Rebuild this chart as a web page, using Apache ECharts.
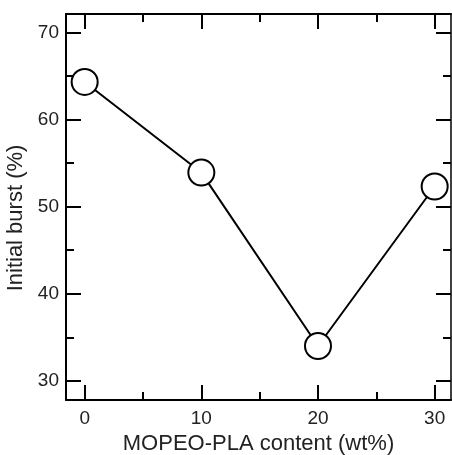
<!DOCTYPE html>
<html>
<head>
<meta charset="utf-8">
<script src="https://cdn.jsdelivr.net/npm/echarts@6/dist/echarts.min.js"></script>
<style>
  html, body { margin: 0; padding: 0; background: #fff; }
  #main { width: 452px; height: 455px; }
</style>
</head>
<body>
<div id="main"></div>
<script>
var contentWt = [0, 10, 20, 30];
var initialBurst = [64.3, 53.9, 34.0, 52.3];
var xMajorTicks = [0, 10, 20, 30];
var xMinorTicks = [5, 15, 25];
var yMajorTicks = [30, 40, 50, 60, 70];
var yMinorTicks = [35, 45, 55, 65];

var chart = echarts.init(document.getElementById('main'));

var font = 'Liberation Sans, Arial, sans-serif';
var xMin = -1.6, xMax = 31.4;
var yMin = 27.8, yMax = 72.1;

function xAxis(pos, ticks, len, main) {
  return {
    type: 'value', position: pos, min: xMin, max: xMax,
    splitLine: { show: false },
    axisLine: { show: main, onZero: false, lineStyle: { color: '#000', width: 2 } },
    axisTick: { show: true, inside: true, length: len, customValues: ticks,
      lineStyle: { color: '#000', width: 2 } },
    axisLabel: { show: main && pos === 'bottom', customValues: ticks,
      color: '#222', fontSize: 19, fontFamily: font, margin: 9 },
    name: main && pos === 'bottom' ? 'MOPEO-PLA content (wt%)' : '',
    nameLocation: 'middle', nameGap: 32,
    nameTextStyle: { color: '#222', fontSize: 22, fontFamily: font }
  };
}

function yAxis(pos, ticks, len, main) {
  return {
    type: 'value', position: pos, min: yMin, max: yMax,
    splitLine: { show: false },
    axisLine: { show: main, onZero: false, lineStyle: { color: '#000', width: pos === 'left' ? 2 : 1.5 } },
    axisTick: { show: true, inside: true, length: len, customValues: ticks,
      lineStyle: { color: '#000', width: 2 } },
    axisLabel: { show: main && pos === 'left', customValues: ticks,
      color: '#222', fontSize: 19, fontFamily: font, margin: 7 },
    name: main && pos === 'left' ? 'Initial burst (%)' : '',
    nameLocation: 'middle', nameGap: 25,
    nameTextStyle: { color: '#222', fontSize: 22, fontFamily: font, padding: [0, 22, 0, 0] }
  };
}

var option = {
  animation: false,
  grid: { left: 66, top: 14, right: 1, bottom: 55, outerBoundsMode: 'none', containLabel: false },
  xAxis: [
    xAxis('bottom', xMajorTicks, 15, true),
    xAxis('bottom', xMinorTicks, 8, false),
    xAxis('top', xMajorTicks, 15, true),
    xAxis('top', xMinorTicks, 8, false)
  ],
  yAxis: [
    yAxis('left', yMajorTicks, 15, true),
    yAxis('left', yMinorTicks, 8, false),
    yAxis('right', yMajorTicks, 15, true),
    yAxis('right', yMinorTicks, 8, false)
  ],
  series: [{
    type: 'line',
    xAxisIndex: 0,
    yAxisIndex: 0,
    data: contentWt.map(function (x, i) { return [x, initialBurst[i]]; }),
    symbol: 'circle',
    symbolSize: 26,
    lineStyle: { color: '#000', width: 2 },
    itemStyle: { color: '#fff', borderColor: '#000', borderWidth: 2 }
  }]
};
chart.setOption(option);
</script>
</body>
</html>
